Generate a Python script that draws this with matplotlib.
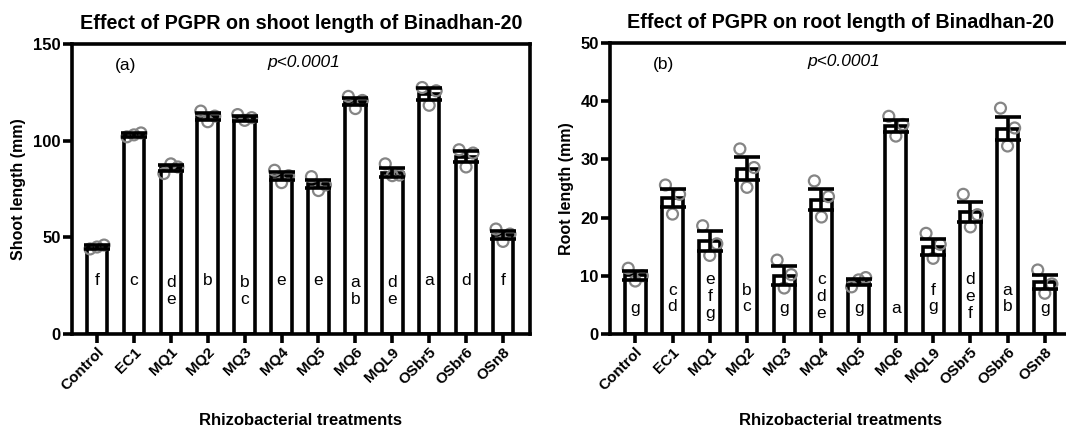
import matplotlib
matplotlib.use('Agg')
import matplotlib.pyplot as plt
import numpy as np

plt.rcParams['font.family'] = ['Liberation Sans', 'DejaVu Sans']

treatments = ['Control', 'EC1', 'MQ1', 'MQ2', 'MQ3', 'MQ4', 'MQ5', 'MQ6',
              'MQL9', 'OSbr5', 'OSbr6', 'OSn8']

# shoot length (mm)
shoot_mean = [45, 103, 86, 112.5, 111.5, 81.6, 77.5, 120.2, 83.5, 124, 91.8, 51.3]
shoot_sem = [1.0, 1.0, 1.5, 1.8, 1.2, 2.0, 2.2, 2.0, 2.3, 3.0, 2.6, 2.0]
shoot_reps = [[44, 46, 45], [102, 104, 103], [83, 86.4, 88], [115.3, 112.7, 109.8],
              [113.5, 111.9, 110.5], [84.7, 81.9, 78.3], [81.4, 77.1, 74.2],
              [122.9, 120.8, 116.6], [88, 82.2, 81.9], [127.5, 125.8, 118.3],
              [95.3, 93.6, 86.4], [54.3, 51.7, 47.9]]
shoot_letters = ['f', 'c', 'de', 'b', 'bc', 'e', 'e', 'ab', 'de', 'a', 'd', 'f']

# root length (mm)
root_mean = [10.1, 23.4, 16.0, 28.4, 10.0, 23.1, 9.0, 35.7, 15.0, 20.9, 35.3, 9.0]
root_sem = [0.8, 1.5, 1.7, 2.0, 1.6, 1.8, 0.5, 1.0, 1.4, 1.7, 2.0, 1.2]
root_reps = [[11.3, 10.0, 9.1], [25.6, 24.0, 20.6], [18.6, 15.5, 13.5], [31.8, 28.6, 25.2],
             [12.7, 10.2, 7.9], [26.3, 23.6, 20.1], [8.1, 9.7, 9.3], [37.4, 36.0, 34.0],
             [17.3, 15.4, 13.0], [24.0, 20.5, 18.4], [38.8, 35.4, 32.3], [11.0, 8.6, 7.0]]
root_letters = ['g', 'cd', 'efg', 'bc', 'g', 'cde', 'g', 'a', 'fg', 'def', 'ab', 'g']


def draw(ax, means, sems, reps, letters, ymax, yticks, ylabel, title, tag, letter_y):
    x = np.arange(len(treatments))
    ax.bar(x, means, width=0.56, color='white', edgecolor='black', linewidth=2.6, zorder=2)
    offs = [-0.19, 0.19, 0.0]
    for i, vals in enumerate(reps):
        ax.scatter([x[i] + o for o in offs], vals, s=62, facecolor='none',
                   edgecolor='#858585', linewidth=1.6, zorder=3)
    ax.errorbar(x, means, yerr=sems, fmt='none', ecolor='black', elinewidth=2.6,
                capsize=9.5, capthick=2.6, zorder=4)
    for i, lt in enumerate(letters):
        ax.text(x[i], letter_y[len(lt) - 1], '\n'.join(lt), ha='center', va='center',
                fontsize=12.5, linespacing=1.15, zorder=5)
    ax.set_xlim(-0.68, 11.73)
    ax.set_ylim(0, ymax)
    ax.set_yticks(yticks)
    ax.set_xticks(x)
    ax.set_xticklabels(treatments, rotation=45, ha='right', rotation_mode='anchor',
                       fontsize=11, fontweight='bold')
    for lb in ax.get_yticklabels():
        lb.set_fontweight('bold')
        lb.set_fontsize(12)
    for s in ax.spines.values():
        s.set_linewidth(2.6)
    ax.tick_params(axis='both', direction='out', length=6.5, width=2.6, pad=1.5)
    ax.set_ylabel(ylabel, fontsize=11.5, fontweight='bold', labelpad=5)
    ax.set_xlabel('Rhizobacterial treatments', fontsize=12, fontweight='bold', labelpad=14)
    ax.set_title(title, fontsize=14.2, fontweight='bold', pad=11)
    ax.text(0.77, ymax * 0.925, tag, fontsize=12.5, ha='center', va='center')
    ax.text(5.6, ymax * 0.935, 'p<0.0001', fontsize=12.5, style='italic', ha='center', va='center')


fig = plt.figure(figsize=(10.66, 4.28), dpi=100)
ax1 = fig.add_axes([0.0675, 0.2196, 0.4296, 0.6776])
ax2 = fig.add_axes([0.5722, 0.2196, 0.4334, 0.680])

draw(ax1, shoot_mean, shoot_sem, shoot_reps, shoot_letters, 150, [0, 50, 100, 150],
     'Shoot length (mm)', 'Effect of PGPR on shoot length of Binadhan-20', '(a)',
     [27.6, 22.4, 17.2])
draw(ax2, root_mean, root_sem, root_reps, root_letters, 50, [0, 10, 20, 30, 40, 50],
     'Root length (mm)', 'Effect of PGPR on root length of Binadhan-20', '(b)',
     [4.4, 6.1, 6.4])

fig.savefig('out.png', dpi=100)
